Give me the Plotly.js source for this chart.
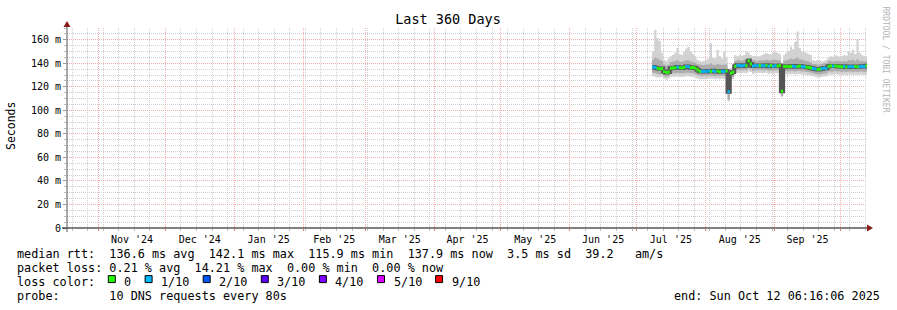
<!DOCTYPE html>
<html><head><meta charset="utf-8">
<script src="https://cdn.plot.ly/plotly-3.0.1.min.js"></script>
<style>html,body{margin:0;padding:0;background:#fff}#chart{width:897px;height:310px}</style>
</head><body><div id="chart"></div>
<script>
// ---- data (milliseconds), one sample per day starting at firstDay ----
const firstDay = '2025-07-08';
const rangeStart = '2024-10-17 18:00';
const rangeEnd = '2025-10-12 18:00';

const medianMs = [
136.8,136.5,135.8,135.3,135.5,133.0,132.2,132.5,135.8,136.0,
136.2,136.8,136.3,136.0,136.5,137.3,137.0,136.2,136.4,135.9,
134.5,133.2,133.0,133.3,133.0,133.5,133.2,133.6,133.0,133.4,
132.8,133.2,133.0,133.5,115.9,131.6,132.5,137.5,138.3,138.0,
137.8,138.4,138.0,142.1,139.5,137.6,138.2,137.9,138.2,138.0,
137.8,138.3,137.5,138.1,137.6,138.0,137.7,138.2,116.3,137.2,
137.5,137.0,137.4,137.6,137.1,137.3,137.8,137.2,137.0,136.8,
136.5,136.0,135.6,135.2,134.8,135.0,135.4,136.0,135.7,137.5,
137.8,137.6,137.8,137.5,137.2,137.0,137.4,136.8,137.0,137.2,
136.9,137.3,137.0,137.1,137.4,137.2,137.9];

const lossPct = [
0.6,0.4,0,0,0,0,0,0,0,0,
0,0.3,0,0,0,0.5,0.3,0,0,0,
0,0,0.4,0.3,0.5,0.3,0,0.4,0.3,0,
0,0.3,0.5,0,5.0,0,0,0,0.4,0.3,
0.3,0.5,0,0,0,0.3,0.4,0.3,0,0.3,
0.4,0,0.3,0,0.3,0.5,0,0,0,0,
0,0,0,0.3,0.4,0,0,0.3,0.3,0,
0,0,0.4,0.3,0,0,0.3,0.4,0.3,0,
0,0.3,0,0,0,0,0.3,0,0.4,0.3,
0.3,0,0,0.3,0.4,0.3,0];

const smokeMax = [
150,168.5,161.5,159,149,143,142,144,146,147,
149,153,148,147,150,152.5,154,150,148,146,
143,142,141.5,142,143,144,157,145,144,151.5,
146,144,150,145,134,136,137,147,146,147,
146.5,147,150,149,147,146,146.5,145.8,146,147,
148,148.7,148,147.5,149,150,149,148,138,147,
149,150.5,154,152,158,167,153,150,149.5,149,
148,147,142.5,142,143,142.5,141.5,142,143,145,
146,145.5,147,146,145.8,146,147,146.5,150,149,
151.5,148,160.8,149,147,146,146];

const smokeHigh = [
143,145,144,143,142,139,138,139,141,141.5,
142,142.5,141.5,141,142,142.5,142.5,141.5,141,140.5,
139.5,139,138.5,138.5,139,139,140,139,138.5,139.5,
139,138.5,139,139,133,134.5,135,142,142.5,142.5,
142,142.5,143,145,144.5,142.5,142.5,142,142.5,142.5,
142.5,143,142.5,142.5,143,143,142.5,142.5,136,142,
142.5,143,144,143.5,144,145,143.5,143,142.5,142,
141.5,140.5,139.5,139.5,139,139,139.5,140,140,142,
142,141.5,142,142,141.5,141.5,142,141.5,142.5,142.5,
143,142,143.5,142,142,141.5,142];

const smokeLow = [
132,131.5,131,130.5,131,129,128.5,129,131,131.5,
131.5,132,131.5,131.5,131.5,132,132,131.5,131.5,131,
130,129.5,129,129.5,129,129.5,129.5,129.5,129,129.5,
129,129.5,129,129.5,109,128,128.5,134,134.5,134,
134,134.5,134,135.5,135,133.5,134,134,134.5,134,
134,134.5,133.5,134,133.5,134,134,134.5,112,133,
133.5,133,133.5,133.5,133,133.5,133.5,133,133,132.5,
132.5,132,131.5,131,130.5,130.5,131,131.5,131.5,133,
133,133,133.5,133,133,132.5,133,132.5,133,133,
132.5,133,132.5,133,133,132.5,133];

const smokeMin = [
129,128.5,128,128,128.5,127,126,127,128.5,128.5,
128.5,129,128.5,128.5,128.5,129,129,128.5,128.5,128,
127,126.5,126.5,126.5,126.5,127,127,127,126.5,127,
126.5,127,126.5,127,107.5,126,126.5,131.5,132,131.5,
131.5,132,131.5,133,132.5,131,131.5,131.5,132,131.5,
131.5,132,131,131.5,131,131.5,131.5,132,111.5,130.5,
131,130.5,131,131,130.5,131,131,130.5,130.5,130,
130,129.5,129,128.5,128,128,128.5,129,129,130.5,
130.5,130.5,131,130.5,130.5,130,130.5,130,130.5,130.5,
130,130.5,130,130.5,130.5,130,130.5];

const yTickVals = [0,20,40,60,80,100,120,140,160];
const yTickText = ['0','20 m','40 m','60 m','80 m','100 m','120 m','140 m','160 m'];

const lossLabels = ['0','1/10','2/10','3/10','4/10','5/10','9/10'];
const lossColors = ['#26ff00','#00b8ff','#0059ff','#5e00ff','#7e00ff','#dd00ff','#ff0000'];
const lossUpper = [0,10,20,30,40,50,90];

const statLines = [
  'median rtt:  136.6 ms avg  142.1 ms max  115.9 ms min  137.9 ms now  3.5 ms sd  39.2   am/s',
  'packet loss: 0.21 % avg  14.21 % max  0.00 % min  0.00 % now',
  'loss color:',
  'probe:       10 DNS requests every 80s'
];
const endText = 'end: Sun Oct 12 06:16:06 2025';
const titleText = 'Last 360 Days';

// ---- build ----
const MONO = 'DejaVu Sans Mono';
const n = medianMs.length;
function dayStr(k){
  const d = new Date(Date.parse(firstDay + 'T00:00:00Z') + k*86400000);
  return d.toISOString().slice(0,10);
}
const xs = [];
for (let i=0;i<=n;i++) xs.push(dayStr(i));
const ext = a => a.concat([a[a.length-1]]);

const traces = [];
traces.push({x:xs, y:ext(smokeMin), mode:'lines', line:{width:0, shape:'hv'}, hoverinfo:'skip'});
traces.push({x:xs, y:ext(smokeMax), mode:'lines', line:{width:0, shape:'hv'}, fill:'tonexty', fillcolor:'#d2d2d2', hoverinfo:'skip'});
traces.push({x:xs, y:ext(smokeLow), mode:'lines', line:{width:0, shape:'hv'}, hoverinfo:'skip'});
traces.push({x:xs, y:ext(smokeHigh), mode:'lines', line:{width:0, shape:'hv'}, fill:'tonexty', fillcolor:'#adadad', hoverinfo:'skip'});
traces.push({x:xs, y:ext(medianMs), mode:'lines', line:{width:4, color:'#555555', shape:'hv'}, hoverinfo:'skip'});

function lossClass(p){
  if (p <= 0) return 0;
  for (let k=1;k<lossUpper.length;k++) if (p <= lossUpper[k]) return k;
  return lossUpper.length-1;
}
const segX = lossColors.map(()=>[]), segY = lossColors.map(()=>[]);
for (let i=0;i<n;i++){
  const c = lossClass(lossPct[i]);
  segX[c].push(xs[i], xs[i+1], null);
  segY[c].push(medianMs[i], medianMs[i], null);
}
for (let c=0;c<lossColors.length;c++){
  if (segX[c].length) traces.push({x:segX[c], y:segY[c], mode:'lines', line:{width:3, color:lossColors[c]}, hoverinfo:'skip', connectgaps:false});
}

// pixel -> paper helpers (plot area 67..867 x 28..228)
const L=67, T=28, W=800, H=200;
const px = x => (x-L)/W;
const py = y => (T+H-y)/H;

const shapes = [
  {type:'line', xref:'paper', yref:'paper', x0:px(62), x1:px(868), y0:0, y1:0, line:{color:'#000', width:1}},
  {type:'line', xref:'paper', yref:'paper', x0:0, x1:0, y0:py(232), y1:py(25), line:{color:'#555', width:1}},
  {type:'path', xref:'paper', yref:'paper', path:`M ${px(867)} ${py(224.5)} L ${px(873)} ${py(228)} L ${px(867)} ${py(231.5)} Z`, fillcolor:'#8b1c1c', line:{width:0}},
  {type:'path', xref:'paper', yref:'paper', path:`M ${px(63.5)} ${py(27)} L ${px(67)} ${py(21)} L ${px(70.5)} ${py(27)} Z`, fillcolor:'#8b1c1c', line:{width:0}}
];

const ann = [];
const lineY = [253.5, 267.5, 281.5, 295.5];
statLines.forEach((t,k)=>{
  ann.push({xref:'paper', yref:'paper', x:px(15), y:py(lineY[k]), xanchor:'left', yanchor:'middle', text:t.replace(/ /g,'\u00a0'), showarrow:false, font:{family:MONO, size:11.8, color:'#000'}});
});
ann.push({xref:'paper', yref:'paper', x:px(882), y:py(lineY[3]), xanchor:'right', yanchor:'middle', text:endText, showarrow:false, font:{family:MONO, size:11.8, color:'#000'}});

let sx = 108.3;
lossLabels.forEach((lab,k)=>{
  shapes.push({type:'rect', xref:'paper', yref:'paper', x0:px(sx), x1:px(sx+7), y0:py(275.6), y1:py(282.6), fillcolor:lossColors[k], line:{color:'#000', width:1}});
  ann.push({xref:'paper', yref:'paper', x:px(sx+14), y:py(lineY[2]), xanchor:'left', yanchor:'middle', text:lab, showarrow:false, font:{family:MONO, size:11.8, color:'#000'}});
  sx = sx + 15.5 + (lab.length+2)*7.1;
});

ann.push({xref:'paper', yref:'paper', x:px(11), y:py(126), xanchor:'center', yanchor:'middle', textangle:-90, text:'Seconds', showarrow:false, font:{family:MONO, size:11.5, color:'#000'}});
ann.push({xref:'paper', yref:'paper', x:px(885.5), y:py(59), xanchor:'center', yanchor:'middle', textangle:90, text:'RRDTOOL / TOBI OETIKER', showarrow:false, font:{family:MONO, size:8, color:'#b4b4b4'}});

const layout = {
  width:897, height:310,
  margin:{l:L, r:897-L-W, t:T, b:310-T-H, pad:0},
  paper_bgcolor:'#fff', plot_bgcolor:'#fff',
  showlegend:false,
  title:{text:titleText, font:{family:MONO, size:13.5, color:'#000'}, xref:'container', yref:'container', x:448/897, y:1-19/310, xanchor:'center', yanchor:'middle'},
  xaxis:{type:'date', range:[rangeStart, rangeEnd], tickmode:'linear', dtick:'M1', tick0:'2024-11-01', tickformat:"%b '%y", ticklabelmode:'period',
    showgrid:true, gridcolor:'#f3aeae', griddash:'1px,1px', gridwidth:1, zeroline:false, showline:false,
    ticks:'outside', ticklen:2, tickcolor:'#e07a7a', tickfont:{family:MONO, size:10, color:'#000'},
    minor:{tickmode:'linear', dtick:7*86400000, tick0:'2024-10-20', showgrid:true, gridcolor:'#d0d0d0', griddash:'1px,1px', ticks:'outside', ticklen:2, tickcolor:'#bbbbbb'},
    fixedrange:true},
  yaxis:{range:[0,170], tickmode:'array', tickvals:yTickVals, ticktext:yTickText,
    showgrid:true, gridcolor:'#f3aeae', griddash:'1px,1px', gridwidth:1, zeroline:false, showline:false,
    ticks:'outside', ticklen:3, tickcolor:'#999', tickfont:{family:MONO, size:10, color:'#000'},
    minor:{tickmode:'linear', tick0:0, dtick:5, showgrid:true, gridcolor:'#d0d0d0', griddash:'1px,1px', ticks:'outside', ticklen:2, tickcolor:'#bbbbbb'},
    fixedrange:true},
  shapes:shapes,
  annotations:ann
};

Plotly.newPlot('chart', traces, layout, {staticPlot:true, displayModeBar:false});
</script>
</body></html>
